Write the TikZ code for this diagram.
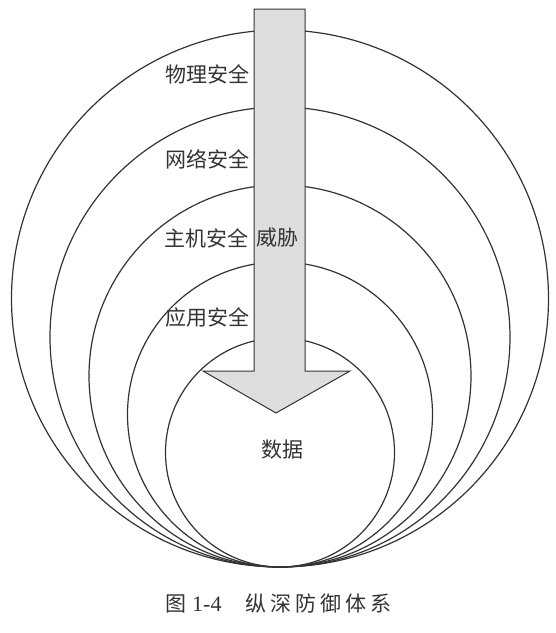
\documentclass[tikz,border=0pt]{standalone}
\usepackage{fontspec}
\setmainfont{Liberation Serif}
\newfontfamily\cjk{Noto Sans CJK SC}
\definecolor{ink}{HTML}{333333}
\definecolor{arrowfill}{HTML}{DEDEDE}
\begin{document}
\begin{tikzpicture}[x=1pt,y=-1pt,
  ring/.style={draw=ink, line width=1.2pt, circle, inner sep=0pt},
  lbl/.style={font=\cjk\fontsize{21}{21}\selectfont, text=ink, inner sep=0pt},
  captext/.style={font=\cjk\fontsize{21}{21}\selectfont, text=ink, inner sep=0pt}]
\useasboundingbox (0,0) rectangle (556,633);
\fill[white] (0,0) rectangle (556,633);
% nested rings, tangent at the bottom
\node[ring, minimum size=537pt] (c1) at (280,298.5) {};
\node[ring, minimum size=460pt] (c2) at (280,337) {};
\node[ring, minimum size=382pt] (c3) at (280,376) {};
\node[ring, minimum size=305pt] (c4) at (280,414.5) {};
\node[ring, minimum size=229pt] (c5) at (280,452.5) {};
% threat arrow
\draw[draw=ink, line width=1pt, fill=arrowfill, line join=miter]
  (254,9) -- (305,9) -- (305,371) -- (350,371) -- (276,413) -- (203,371) -- (254,371) -- cycle;
% labels
\node[lbl, anchor=east] (l1) at (250,74) {物理安全};
\node[lbl, anchor=east] (l2) at (250,159) {网络安全};
\node[lbl, anchor=east] (l3) at (249,238) {主机安全};
\node[lbl, anchor=west] (threat) at (256,238) {威胁};
\node[lbl, anchor=east] (l4) at (250,317) {应用安全};
\node[lbl] (data) at (282,450) {数据};
% caption
\node[captext, anchor=west] (fig) at (165,604) {图};
\node[font=\fontsize{22}{22}\selectfont, text=ink, inner sep=0pt, anchor=west] (num) at (192,604) {1-4};
\node[captext, anchor=west] (title) at (245,604) {纵\hspace{4pt}深\hspace{4pt}防\hspace{4pt}御\hspace{4pt}体\hspace{4pt}系};
\end{tikzpicture}
\end{document}
